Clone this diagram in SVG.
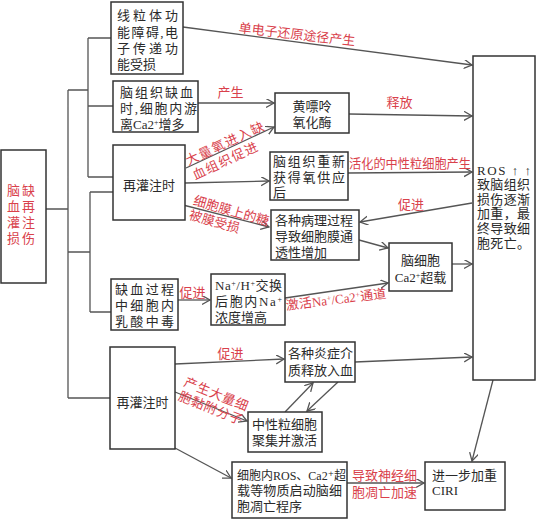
<svg xmlns="http://www.w3.org/2000/svg" width="544" height="520" viewBox="0 0 544 520">
<style>
.box{fill:#fff;stroke:#333;stroke-width:1.5}
text{font-family:'Liberation Serif','Noto Sans CJK SC','DejaVu Serif',serif;font-size:13px;fill:#2a2a2a}
.r{fill:#d9414b}
.m{text-anchor:middle}
.ln{stroke:#555;stroke-width:1.3;fill:none}
.ar{marker-end:url(#ah)}
.sup{font-size:8px}
</style>
<defs>
<marker id="ah" markerUnits="userSpaceOnUse" markerWidth="12" markerHeight="12" refX="8" refY="4.5" orient="auto" viewBox="0 0 12 12">
<path d="M0,0 L8,4.5 L0,9" fill="none" stroke="#555" stroke-width="1.3"/>
</marker>
</defs>
<rect width="544" height="520" fill="#fff"/>

<g id="connectors">
<path class="ln" d="M46,209 H68 M68,90 V398 M68,90 H88 M88,38 V177 M88,38 H111 M88,106 H113 M88,177 H113 M68,252 H90 M90,192 V312 M90,192 H113 M90,312 H111 M68,398 H110"/>
<path class="ln ar" d="M183,27 L472,65"/>
<path class="ln ar" d="M198,103 L274,103"/>
<path class="ln ar" d="M186,168 L274,127"/>
<path class="ln ar" d="M349,114 L472,116"/>
<path class="ln ar" d="M185,183 L269,181"/>
<path class="ln ar" d="M348,173 L472,172"/>
<path class="ln ar" d="M472,203 L360,222"/>
<path class="ln ar" d="M183,205 L269,227"/>
<path class="ln ar" d="M359,240 L388,248"/>
<path class="ln ar" d="M452,264 L472,264"/>
<path class="ln ar" d="M178,300 L210,300"/>
<path class="ln ar" d="M285,298 L388,283"/>
<path class="ln ar" d="M175,364 L284,359"/>
<path class="ln ar" d="M355,362 L472,357"/>
<path class="ln ar" d="M175,392 L247,421"/>
<path class="ln ar" d="M285,412 L313,383"/>
<path class="ln ar" d="M338,382 L307,411"/>
<path class="ln ar" d="M175,448 L231,478"/>
<path class="ln ar" d="M347,483 L424,483"/>
<path class="ln ar" d="M493,380 L472,461"/>
</g>

<g id="labels">
<text class="r m" x="297" y="39" transform="rotate(6.5 297 34)">单电子还原途径产生</text>
<text class="r m" x="230.5" y="97">产生</text>
<g transform="translate(189,166.8) rotate(-25)">
<text class="r" x="0" y="-1.5" letter-spacing="1.3">大量氧进入缺</text>
<text class="r" x="0" y="14.5" letter-spacing="1.3">血组织促进</text>
</g>
<text class="r m" x="399.5" y="107">释放</text>
<text class="r" x="349" y="168" textLength="122" lengthAdjust="spacingAndGlyphs">活化的中性粒细胞产生</text>
<text class="r m" x="411" y="209">促进</text>
<g transform="translate(192.5,204.4) rotate(16)">
<text class="r" x="0" y="0">细胞膜上的糖</text>
<text class="r" x="0" y="15">被膜受损</text>
</g>
<text class="r m" x="192.5" y="297">促进</text>
<text class="r m" x="336" y="304" transform="rotate(-7 336 299)">激活Na<tspan class="sup" baseline-shift="super">+</tspan>/Ca2<tspan class="sup" baseline-shift="super">+</tspan>通道</text>
<text class="r m" x="230.5" y="358">促进</text>
<g transform="translate(183,385.6) rotate(22)">
<text class="r" x="0" y="0" letter-spacing="0.7">产生大量细</text>
<text class="r" x="0" y="15" letter-spacing="0.7">胞黏附分子</text>
</g>
<text class="r" x="352" y="480">导致神经细</text>
<text class="r" x="352" y="497">胞凋亡加速</text>
</g>

<g id="n-root">
<rect class="box" x="1" y="150" width="45" height="133"/>
<text class="r" x="7" y="195" textLength="28" lengthAdjust="spacing">脑缺</text>
<text class="r" x="7" y="211" textLength="28" lengthAdjust="spacing">血再</text>
<text class="r" x="7" y="227" textLength="28" lengthAdjust="spacing">灌注</text>
<text class="r" x="7" y="243" textLength="28" lengthAdjust="spacing">损伤</text>
</g>

<g id="n-mito">
<rect class="box" x="111" y="2" width="72" height="72"/>
<text x="117" y="20" textLength="61" lengthAdjust="spacing">线粒体功</text>
<text x="117" y="37" textLength="61" lengthAdjust="spacing">能障碍,电</text>
<text x="117" y="53" textLength="61" lengthAdjust="spacing">子传递功</text>
<text x="117" y="69">能受损</text>
</g>

<g id="n-ca-ischemia">
<rect class="box" x="113" y="81" width="85" height="51"/>
<text x="120" y="97" textLength="73" lengthAdjust="spacing">脑组织缺血</text>
<text x="120" y="113" textLength="77" lengthAdjust="spacing">时,细胞内游</text>
<text x="120" y="129">离Ca2<tspan class="sup" baseline-shift="super">+</tspan>增多</text>
</g>

<g id="n-xo">
<rect class="box" x="275" y="93" width="74" height="40"/>
<text class="m" x="312" y="111">黄嘌呤</text>
<text class="m" x="312" y="127">氧化酶</text>
</g>

<g id="n-reperf1">
<rect class="box" x="113" y="145" width="72" height="75"/>
<text class="m" x="149" y="190">再灌注时</text>
</g>

<g id="n-oxygen">
<rect class="box" x="270" y="152" width="78" height="48"/>
<text x="273" y="166" textLength="72" lengthAdjust="spacing">脑组织重新</text>
<text x="273" y="182" textLength="72" lengthAdjust="spacing">获得氧供应</text>
<text x="273" y="197">后</text>
</g>

<g id="n-membrane">
<rect class="box" x="271" y="210" width="88" height="50"/>
<text x="275" y="225">各种病理过程</text>
<text x="275" y="241">导致细胞膜通</text>
<text x="275" y="257">透性增加</text>
</g>

<g id="n-ca-overload">
<rect class="box" x="389" y="243" width="63" height="48"/>
<text class="m" x="420.5" y="265">脑细胞</text>
<text class="m" x="420.5" y="282">Ca2<tspan class="sup" baseline-shift="super">+</tspan>超载</text>
</g>

<g id="n-ros">
<rect class="box" x="473" y="56" width="62" height="324"/>
<text x="477" y="175" textLength="54" lengthAdjust="spacing">ROS ↑ ↑</text>
<text x="477" y="189" textLength="53" lengthAdjust="spacing">致脑组织</text>
<text x="477" y="204" textLength="53" lengthAdjust="spacing">损伤逐渐</text>
<text x="477" y="218" textLength="53" lengthAdjust="spacing">加重，最</text>
<text x="477" y="233" textLength="53" lengthAdjust="spacing">终导致细</text>
<text x="477" y="248" textLength="53" lengthAdjust="spacing">胞死亡。</text>
</g>

<g id="n-lactic">
<rect class="box" x="111" y="279" width="67" height="51"/>
<text x="115" y="294" textLength="59" lengthAdjust="spacing">缺血过程</text>
<text x="115" y="310" textLength="59" lengthAdjust="spacing">中细胞内</text>
<text x="115" y="326" textLength="59" lengthAdjust="spacing">乳酸中毒</text>
</g>

<g id="n-nah">
<rect class="box" x="211" y="274" width="74" height="51"/>
<text x="215" y="290" textLength="67" lengthAdjust="spacing">Na<tspan class="sup" baseline-shift="super">+</tspan>/H<tspan class="sup" baseline-shift="super">+</tspan>交换</text>
<text x="215" y="306" textLength="67" lengthAdjust="spacing">后胞内Na<tspan class="sup" baseline-shift="super">+</tspan></text>
<text x="215" y="322">浓度增高</text>
</g>

<g id="n-reperf2">
<rect class="box" x="110" y="347" width="65" height="102"/>
<text class="m" x="142.5" y="407">再灌注时</text>
</g>

<g id="n-inflam">
<rect class="box" x="285" y="342" width="70" height="40"/>
<text x="288" y="358">各种炎症介</text>
<text x="288" y="375">质释放入血</text>
</g>

<g id="n-neutro">
<rect class="box" x="248" y="412" width="74" height="40"/>
<text x="252" y="429">中性粒细胞</text>
<text x="252" y="445">聚集并激活</text>
</g>

<g id="n-apoptosis">
<rect class="box" x="232" y="462" width="115" height="56"/>
<text x="237" y="480" style="font-size:12px">细胞内ROS、Ca2⁺超</text>
<text x="237" y="495" textLength="105" lengthAdjust="spacing">载等物质启动脑细</text>
<text x="237" y="511">胞凋亡程序</text>
</g>

<g id="n-ciri">
<rect class="box" x="425" y="462" width="80" height="48"/>
<text x="432" y="480">进一步加重</text>
<text x="432" y="495">CIRI</text>
</g>
</svg>
